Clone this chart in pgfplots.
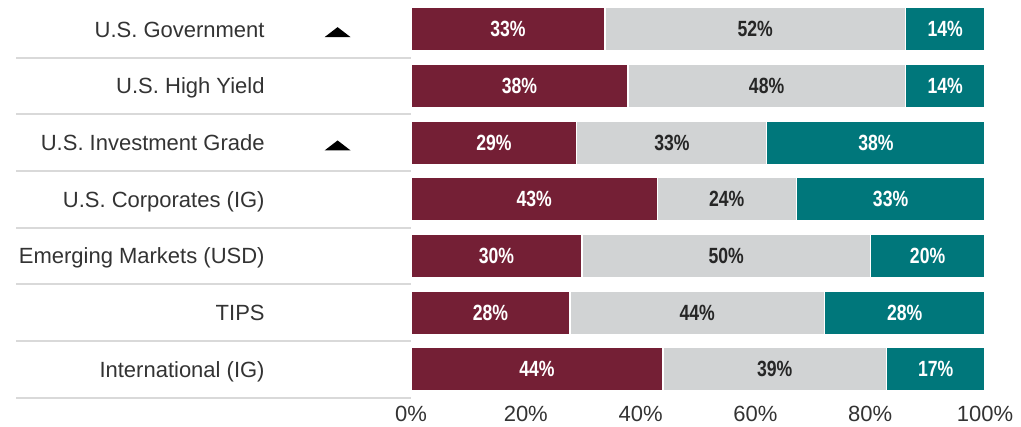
\documentclass[border=0pt]{standalone}
\usepackage{fontspec}
\setmainfont{Liberation Sans}
\newfontfamily\condb[FakeStretch=0.8]{Liberation Sans}
\usepackage{pgfplots}
\pgfplotsset{compat=1.18}
\definecolor{maroon}{HTML}{741F35}
\definecolor{tealc}{HTML}{00777B}
\definecolor{grayc}{HTML}{D1D3D4}
\definecolor{sepc}{HTML}{D9D9D9}
\definecolor{txt}{HTML}{333333}
\newcommand{\tri}{\rlap{\hspace{30pt}\tikz[baseline=0pt]\fill[black] (0,0)--(13pt,0)--(6.5pt,5pt)--cycle;}}
\begin{document}
\begin{tikzpicture}
\begin{axis}[name=ax,
  scale only axis, width=287pt, height=198.3pt,
  xmin=0, xmax=100, ymin=0.5, ymax=7.5, y dir=reverse,
  axis line style={draw=none}, major tick length=0pt, tick style={draw=none},
  clip=false,
  xtick={0,20,40,60,80,100},
  xticklabels={0\%,20\%,40\%,60\%,80\%,100\%},
  ytick={1,2,3,4,5,6,7},
  yticklabels={{U.S. Government\tri},{U.S. High Yield},{U.S. Investment Grade\tri},{U.S. Corporates (IG)},{Emerging Markets (USD)},{TIPS},{International (IG)}},
  xticklabel style={font=\fontsize{11}{13}\selectfont, text=txt, inner sep=0pt, anchor=north, yshift=-4.2pt},
  yticklabel style={font=\fontsize{11}{13}\selectfont, text=txt, inner sep=0pt, anchor=base east, xshift=-73pt, yshift=-3.9pt},
  /pgf/number format/assume math mode=true,
  bar width=21.5pt,
]
\addplot[xbar stacked, bar shift=0pt, fill=maroon, draw=white, line width=0.6pt] coordinates {(33.8,1) (37.8,2) (28.9,3) (42.9,4) (29.8,5) (27.7,6) (43.9,7)};
\addplot[xbar stacked, bar shift=0pt, fill=grayc, draw=white, line width=0.6pt] coordinates {(52.3,1) (48.3,2) (33.1,3) (24.2,4) (50.2,5) (44.3,6) (38.9,7)};
\addplot[xbar stacked, bar shift=0pt, fill=tealc, draw=white, line width=0.6pt] coordinates {(13.9,1) (13.9,2) (38.0,3) (32.9,4) (20.0,5) (28.0,6) (17.2,7)};
% labels
\addplot[stack plots=false, only marks, mark=none, point meta=explicit symbolic,
  nodes near coords={\pgfplotspointmeta\%},
  every node near coord/.style={anchor=center, inner sep=0pt, text=white, font=\condb\bfseries\fontsize{11}{13}\selectfont}]
  coordinates {(16.9,1)[33] (18.9,2)[38] (14.45,3)[29] (21.45,4)[43] (14.9,5)[30] (13.85,6)[28] (21.95,7)[44]};
\addplot[stack plots=false, only marks, mark=none, point meta=explicit symbolic,
  nodes near coords={\pgfplotspointmeta\%},
  every node near coord/.style={anchor=center, inner sep=0pt, text=black!85, font=\condb\bfseries\fontsize{11}{13}\selectfont}]
  coordinates {(59.95,1)[52] (61.95,2)[48] (45.45,3)[33] (55.0,4)[24] (54.9,5)[50] (49.85,6)[44] (63.35,7)[39]};
\addplot[stack plots=false, only marks, mark=none, point meta=explicit symbolic,
  nodes near coords={\pgfplotspointmeta\%},
  every node near coord/.style={anchor=center, inner sep=0pt, text=white, font=\condb\bfseries\fontsize{11}{13}\selectfont}]
  coordinates {(93.05,1)[14] (93.05,2)[14] (81,3)[38] (83.55,4)[33] (90,5)[20] (86,6)[28] (91.4,7)[17]};
\draw[sepc, line width=0.9pt] (axis cs:0,1.5) -- ([xshift=-197.5pt]axis cs:0,1.5);
\draw[sepc, line width=0.9pt] (axis cs:0,2.5) -- ([xshift=-197.5pt]axis cs:0,2.5);
\draw[sepc, line width=0.9pt] (axis cs:0,3.5) -- ([xshift=-197.5pt]axis cs:0,3.5);
\draw[sepc, line width=0.9pt] (axis cs:0,4.5) -- ([xshift=-197.5pt]axis cs:0,4.5);
\draw[sepc, line width=0.9pt] (axis cs:0,5.5) -- ([xshift=-197.5pt]axis cs:0,5.5);
\draw[sepc, line width=0.9pt] (axis cs:0,6.5) -- ([xshift=-197.5pt]axis cs:0,6.5);
\draw[sepc, line width=0.9pt] (axis cs:0,7.5) -- ([xshift=-197.5pt]axis cs:0,7.5);
\end{axis}
\pgfresetboundingbox
\path[use as bounding box] ([shift={(-205.5pt,198.8pt)}]ax.south west) rectangle ([shift={(305pt,-14.7pt)}]ax.south west);
\end{tikzpicture}
\end{document}
